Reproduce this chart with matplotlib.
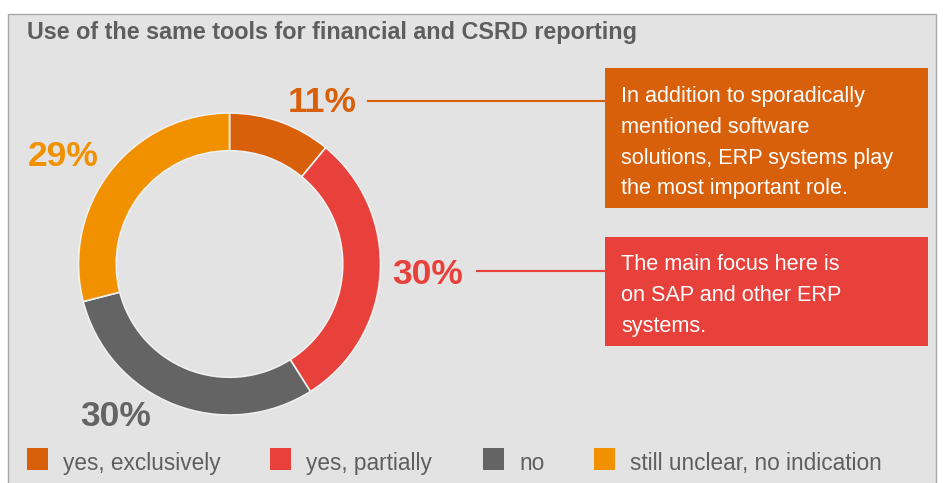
import matplotlib
matplotlib.use('Agg')

import matplotlib.pyplot as plt
import matplotlib.patches as mpatches

# colours
c_excl = '#D9600B'
c_part = '#E8403A'
c_no = '#646464'
c_unclear = '#F29100'
bg = '#E3E3E3'
txt = '#5E5E5E'

title = 'Use of the same tools for financial and CSRD reporting'
categories = ['yes, exclusively', 'yes, partially', 'no', 'still unclear, no indication']
shares = [11, 30, 30, 29]
colors = [c_excl, c_part, c_no, c_unclear]
notes = [['In addition to sporadically', 'mentioned software',
          'solutions, ERP systems play', 'the most important role.'],
         ['The main focus here is', 'on SAP and other ERP', 'systems.']]

W, H = 943, 483
fig = plt.figure(figsize=(W / 100, H / 100), dpi=100)
fig.patch.set_facecolor('white')

# full-size axes in pixel units for the frame, labels and boxes
ax = fig.add_axes([0, 0, 1, 1])
ax.set_xlim(0, W)
ax.set_ylim(H, 0)
ax.axis('off')

ax.add_patch(mpatches.Rectangle((7.5, 13.5), 928, 480, facecolor=bg,
                                edgecolor='#A8A8A8', lw=1))

sans = ['Liberation Sans', 'DejaVu Sans']

ax.text(27, 32, title, family=sans, fontsize=16.8, fontweight='bold',
        color=txt, va='center', ha='left')

# donut
cx, cy, r = 229.5, 264, 151
pax = fig.add_axes([(cx - r) / W, (H - cy - r) / H, 2 * r / W, 2 * r / H])
pax.pie(shares, colors=colors, startangle=90, counterclock=False,
        wedgeprops=dict(width=0.25, edgecolor='#F0F0F0', linewidth=1.2))
pax.set_xlim(-1, 1)
pax.set_ylim(-1, 1)
pax.set_aspect('equal')
pax.axis('off')

# percentage labels
label_pos = [(322, 103), (428, 274), (116, 417), (63, 157)]
for (x, y), v, c in zip(label_pos, shares, colors):
    ax.text(x, y, '%d%%' % v, family=sans, fontsize=25.5, fontweight='bold',
            color=c, ha='center', va='center')

# connector lines and note boxes
ax.plot([368, 605], [101, 101], color=c_excl, lw=1.5)
ax.plot([477, 605], [271, 271], color=c_part, lw=1.5)

boxes = [(605, 68, 323, 140, c_excl, 94), (605, 237, 323, 109, c_part, 262)]
for (x, y, w, h, c, ty), lines in zip(boxes, notes):
    ax.add_patch(mpatches.Rectangle((x, y), w, h, facecolor=c, edgecolor='none'))
    for i, line in enumerate(lines):
        ax.text(621, ty + i * 30.8, line, family=sans, fontsize=15.6,
                color='white', ha='left', va='center_baseline')

# legend
leg_x = [27, 270, 483, 594]
for x, lab, c in zip(leg_x, categories, colors):
    ax.add_patch(mpatches.Rectangle((x, 448), 21, 22, facecolor=c, edgecolor='none'))
    ax.text(x + 36, 461, lab, family=sans, fontsize=16.3, color=txt,
            ha='left', va='center_baseline')

fig.savefig('out.png', dpi=100, facecolor='white')
